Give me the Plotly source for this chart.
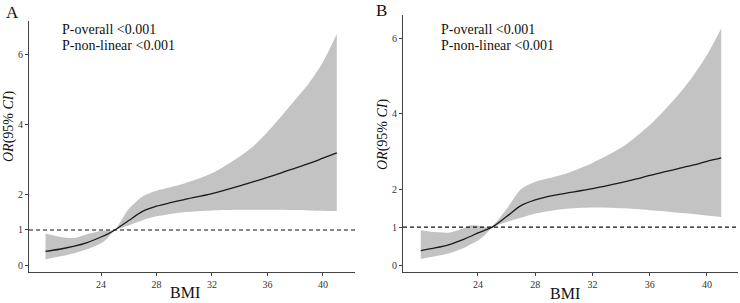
import plotly.graph_objects as go

# ---- data ----
bmi_a = [20, 21, 22, 23, 24, 24.5, 25, 26, 27, 28, 29, 30, 32, 34, 35, 36, 37, 38, 39, 40, 41]
or_a = [0.39, 0.45, 0.53, 0.64, 0.80, 0.89, 1.0, 1.27, 1.53, 1.68, 1.78, 1.87, 2.04, 2.26, 2.38, 2.50, 2.63, 2.77, 2.90, 3.05, 3.20]
lo_a = [0.16, 0.24, 0.33, 0.45, 0.62, 0.78, 0.99, 1.13, 1.28, 1.39, 1.46, 1.51, 1.56, 1.58, 1.58, 1.58, 1.58, 1.57, 1.56, 1.55, 1.54]
hi_a = [0.90, 0.81, 0.77, 0.88, 0.97, 0.99, 1.02, 1.60, 1.96, 2.12, 2.22, 2.33, 2.62, 3.10, 3.40, 3.80, 4.25, 4.72, 5.20, 5.80, 6.60]

bmi_b = [20, 21, 22, 23, 23.5, 24, 24.5, 25, 26, 27, 28, 29, 30, 32, 34, 35, 36, 37, 38, 39, 40, 41]
or_b = [0.38, 0.45, 0.54, 0.68, 0.76, 0.85, 0.92, 1.0, 1.28, 1.57, 1.72, 1.82, 1.89, 2.02, 2.18, 2.27, 2.37, 2.46, 2.55, 2.64, 2.74, 2.83]
lo_b = [0.16, 0.23, 0.31, 0.45, 0.55, 0.65, 0.80, 0.99, 1.14, 1.25, 1.36, 1.43, 1.48, 1.52, 1.50, 1.48, 1.45, 1.42, 1.38, 1.35, 1.31, 1.27]
hi_b = [0.92, 0.87, 0.86, 0.97, 1.05, 1.04, 1.00, 1.04, 1.48, 2.00, 2.20, 2.30, 2.40, 2.70, 3.10, 3.38, 3.70, 4.08, 4.50, 4.98, 5.55, 6.25]

x_ticks = [24, 28, 32, 36, 40]
y_ticks = [0, 1, 2, 4, 6]
ref_or = 1
panel_labels = ["A", "B"]
p_texts = ["P-overall <0.001", "P-non-linear <0.001"]

W, H = 740, 303
SERIF = "Liberation Serif"
FILL = "#c3c3c3"
AX = "#444444"

fig = go.Figure()

panels = [
    (bmi_a, or_a, lo_a, hi_a, "x", "y"),
    (bmi_b, or_b, lo_b, hi_b, "x2", "y2"),
]
for bmi, orv, lo, hi, xa, ya in panels:
    fig.add_trace(go.Scatter(
        x=bmi, y=lo, mode="lines", line=dict(width=0, color=FILL, shape="spline", smoothing=0.8),
        hoverinfo="skip", showlegend=False, xaxis=xa, yaxis=ya))
    fig.add_trace(go.Scatter(
        x=bmi, y=hi, mode="lines", fill="tonexty", fillcolor=FILL,
        line=dict(width=0, color=FILL, shape="spline", smoothing=0.8),
        hoverinfo="skip", showlegend=False, xaxis=xa, yaxis=ya))
    fig.add_trace(go.Scatter(
        x=bmi, y=orv, mode="lines", line=dict(color="#1a1a1a", width=1.3, shape="spline", smoothing=0.8),
        showlegend=False, xaxis=xa, yaxis=ya))

def px_x(p):
    return p / W

def px_y(p):
    return (H - p) / H

axis_common = dict(showline=True, linecolor=AX, linewidth=1, ticks="outside", ticklen=3,
                   tickcolor=AX, tickwidth=1, showgrid=False, zeroline=False,
                   tickfont=dict(family=SERIF, size=10, color="#333333"))

fig.update_layout(
    width=W, height=H, margin=dict(l=0, r=0, t=0, b=0),
    paper_bgcolor="white", plot_bgcolor="white",
    xaxis=dict(domain=[px_x(29), px_x(355)], range=[18.81, 42.31], anchor="y",
               tickvals=x_ticks, **axis_common),
    yaxis=dict(domain=[px_y(272), px_y(21)], range=[-0.2, 6.97], anchor="x",
               tickvals=y_ticks, **axis_common),
    xaxis2=dict(domain=[px_x(403), px_x(738)], range=[18.76, 42.17], anchor="y2",
                tickvals=x_ticks, **axis_common),
    yaxis2=dict(domain=[px_y(272), px_y(15)], range=[-0.185, 6.61], anchor="x2",
                tickvals=y_ticks, **axis_common),
)

# reference dashed lines at OR = 1
for xr, yr in [("x domain", "y"), ("x2 domain", "y2")]:
    fig.add_shape(type="line", xref=xr, yref=yr, x0=0, x1=1, y0=ref_or, y1=ref_or,
                  line=dict(color="#111111", width=1.2, dash="4px,3px"))

annots = []
annots.append(dict(text=panel_labels[0], x=px_x(12), y=px_y(12), font=dict(family=SERIF, size=17, color="#111")))
annots.append(dict(text=panel_labels[1], x=px_x(382), y=px_y(11), font=dict(family=SERIF, size=17, color="#111")))
for i, t in enumerate(p_texts):
    annots.append(dict(text=t, x=px_x(60), y=px_y(29 + 17 * i), xanchor="left",
                       font=dict(family=SERIF, size=14, color="#111")))
    annots.append(dict(text=t, x=px_x(439), y=px_y(29 + 17 * i), xanchor="left",
                       font=dict(family=SERIF, size=14, color="#111")))
annots.append(dict(text="BMI", x=px_x(185), y=px_y(292), font=dict(family=SERIF, size=16, color="#111")))
annots.append(dict(text="BMI", x=px_x(565), y=px_y(293), font=dict(family=SERIF, size=16, color="#111")))
ytitle = "<i>OR</i>(95% <i>CI</i>)"
annots.append(dict(text=ytitle, x=px_x(9), y=px_y(126), textangle=-90, font=dict(family=SERIF, size=14, color="#111")))
annots.append(dict(text=ytitle, x=px_x(383), y=px_y(134), textangle=-90, font=dict(family=SERIF, size=14, color="#111")))

for a in annots:
    a.setdefault("xanchor", "center")
    a.update(xref="paper", yref="paper", yanchor="middle", showarrow=False)
    fig.add_annotation(**a)

fig.write_html("out.html")
